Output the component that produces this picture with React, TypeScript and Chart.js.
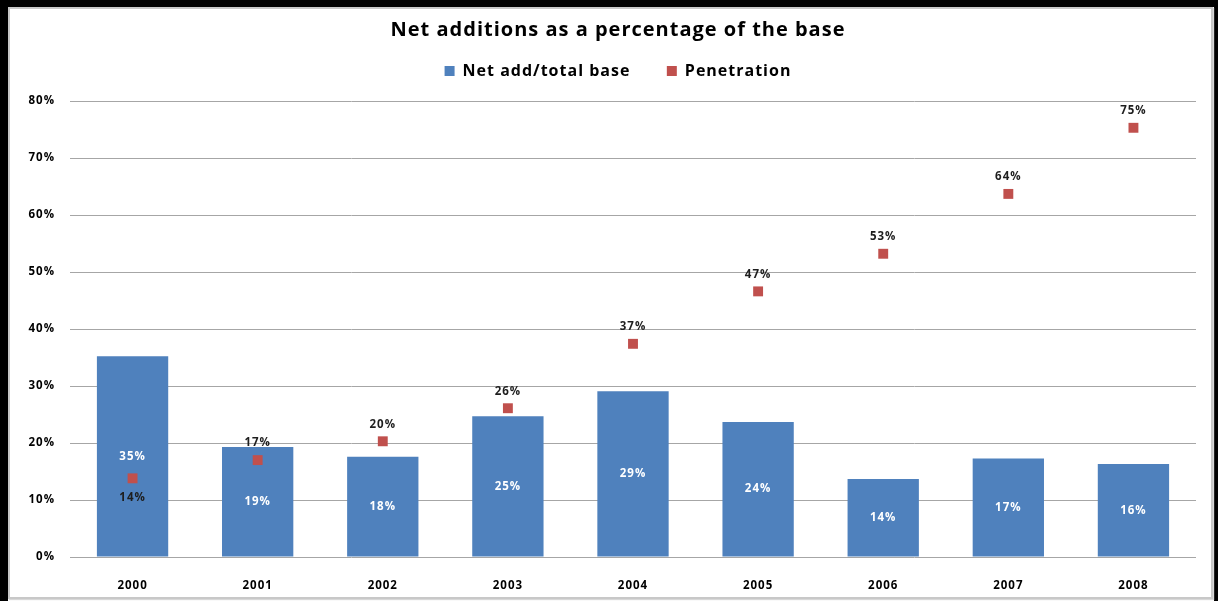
import React, { useEffect, useRef } from "react";
import { Chart, registerables } from "chart.js";

Chart.register(...registerables);

const years = ["2000", "2001", "2002", "2003", "2004", "2005", "2006", "2007", "2008"];
const netAdd = [35.2, 19.3, 17.6, 24.7, 29.1, 23.7, 13.7, 17.3, 16.3];
const penetration = [13.8, 17.0, 20.3, 26.1, 37.4, 46.6, 53.2, 63.7, 75.3];
const yTicks = [0, 10, 20, 30, 40, 50, 60, 70, 80];

const FONT = "'Open Sans'";
const SPACING = "1px";
const fmt = (v: number) => Math.round(v) + "%";

const spacingPlugin = {
  id: "letterSpacing",
  beforeLayout(chart: any) {
    chart.ctx.letterSpacing = SPACING;
  },
  beforeDraw(chart: any) {
    chart.ctx.letterSpacing = SPACING;
  },
};

const labelPlugin = {
  id: "valueLabels",
  afterDatasetsDraw(chart: any) {
    const ctx = chart.ctx;
    ctx.save();
    ctx.letterSpacing = SPACING;
    ctx.font = `bold 11.5px ${FONT}`;
    ctx.textAlign = "center";
    ctx.textBaseline = "middle";
    const barMeta = chart.getDatasetMeta(0);
    barMeta.data.forEach((el: any, i: number) => {
      const p = el.getProps(["x", "y", "base"], true);
      ctx.fillStyle = "#ffffff";
      ctx.fillText(fmt(netAdd[i]), p.x, (p.y + p.base) / 2);
    });
    const ptMeta = chart.getDatasetMeta(1);
    ptMeta.data.forEach((el: any, i: number) => {
      const below = i === 0;
      ctx.fillStyle = "#1e1e1e";
      ctx.fillText(fmt(penetration[i]), el.x, el.y + (below ? 19 : -17));
    });
    ctx.restore();
  },
};

export default function App() {
  const ref = useRef<HTMLCanvasElement | null>(null);
  useEffect(() => {
    if (!ref.current) return;
    const chart = new Chart(ref.current, {
      type: "bar",
      data: {
        labels: years,
        datasets: [
          {
            type: "bar",
            label: "Net add/total base",
            data: netAdd,
            backgroundColor: "#4F81BD",
            borderColor: "#4F81BD",
            borderWidth: 0,
            categoryPercentage: 1,
            barPercentage: 0.57,
            order: 1,
          } as any,
          {
            type: "line",
            label: "Penetration",
            data: penetration,
            showLine: false,
            pointStyle: "rect",
            pointRadius: 7,
            pointHoverRadius: 7,
            backgroundColor: "#C0504D",
            borderColor: "#C0504D",
            borderWidth: 0,
            order: 0,
          } as any,
        ],
      },
      options: {
        responsive: false,
        animation: false,
        layout: { padding: { left: 0, right: 15, top: 0, bottom: 0 } },
        plugins: {
          title: {
            display: true,
            text: "Net additions as a percentage of the base",
            color: "#000",
            font: { family: FONT, size: 20, weight: "bold" },
            padding: { top: 9, bottom: 0 },
          },
          subtitle: {
            display: true,
            text: "",
            font: { size: 10 },
            padding: 0,
          },
          legend: {
            display: true,
            position: "top",
            weight: 1800,
            labels: {
              boxWidth: 10,
              boxHeight: 10,
              padding: 21,
              color: "#000",
              font: { family: FONT, size: 16, weight: "bold" },
              sort: (a: any, b: any) => a.datasetIndex - b.datasetIndex,
              generateLabels: (c: any) => {
                const items = (Chart.defaults.plugins.legend.labels as any).generateLabels(c);
                items.forEach((it: any) => {
                  if (it.datasetIndex === 0) it.text = it.text + "   ";
                });
                return items;
              },
            },
          } as any,
          tooltip: { enabled: false },
        },
        scales: {
          x: {
            grid: { display: false },
            border: { display: false },
            ticks: {
              color: "#000",
              padding: 14,
              font: { family: FONT, size: 11.5, weight: "bold" },
            },
            afterFit: (s: any) => {
              s.height = 40;
            },
          },
          y: {
            min: 0,
            max: 80,
            afterBuildTicks: (s: any) => {
              s.ticks = yTicks.map((v) => ({ value: v }));
            },
            grid: { color: "#a6a6a6", lineWidth: 1, drawTicks: false },
            border: { display: false },
            ticks: {
              color: "#000",
              padding: 15,
              font: { family: FONT, size: 11.5, weight: "bold" },
              callback: (v: any) => v + "%",
            },
            afterFit: (s: any) => {
              s.width = 60;
            },
          },
          yRightSpace: {
            type: "linear",
            position: "right",
            display: true,
            grid: { display: false, drawTicks: false },
            border: { display: false },
            ticks: { display: false },
            afterFit: (s: any) => {
              s.width = 30;
            },
          } as any,
        },
      },
      plugins: [spacingPlugin, labelPlugin],
    });
    return () => chart.destroy();
  }, []);

  return (
    <div
      style={{
        position: "fixed",
        left: 0,
        top: 0,
        width: 1218,
        height: 601,
        background: "#fff",
        overflow: "hidden",
      }}
    >
      <div style={{ position: "absolute", left: 0, top: 0, width: 1218, height: 7, background: "#000" }} />
      <div style={{ position: "absolute", left: 0, top: 0, width: 8, height: 601, background: "#000" }} />
      <div style={{ position: "absolute", left: 1214, top: 0, width: 4, height: 601, background: "#000" }} />
      <div
        style={{
          position: "absolute",
          left: 8,
          top: 7,
          width: 1205,
          height: 592,
          border: "2px solid #c8c8c8",
          boxSizing: "border-box",
          boxShadow: "1px 1px 1px #d8d8d8",
        }}
      />
      <canvas
        ref={ref}
        width={1231}
        height={588}
        style={{ position: "absolute", left: 10, top: 9, width: 1231, height: 588 }}
      />
    </div>
  );
}
